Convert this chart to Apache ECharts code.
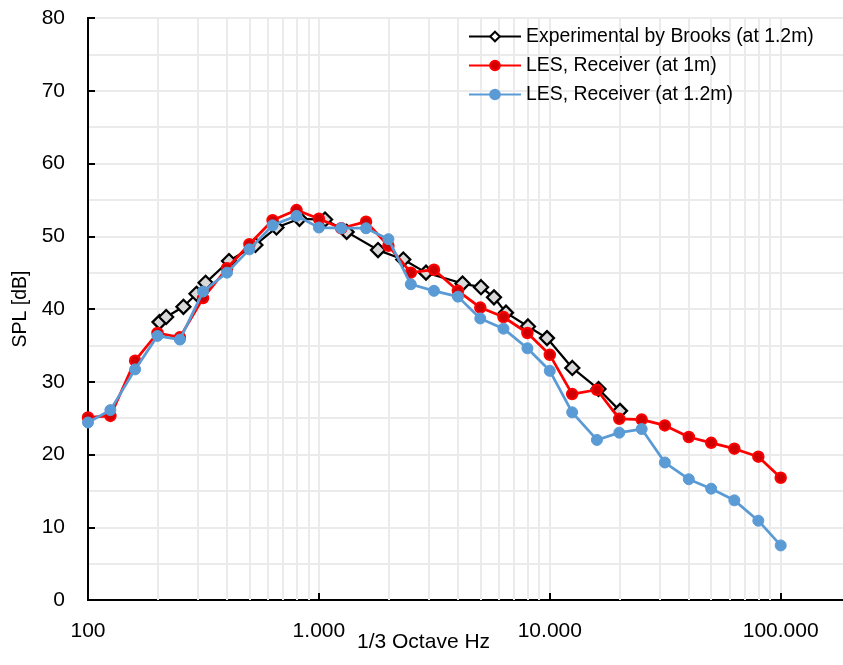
<!DOCTYPE html>
<html>
<head>
<meta charset="utf-8">
<title>SPL spectrum</title>
<script src="https://cdn.jsdelivr.net/npm/echarts@6/dist/echarts.min.js"></script>
<style>
  html, body { margin: 0; padding: 0; background: #fff; }
  #chart { width: 843px; height: 665px; }
</style>
</head>
<body>
<div id="chart"></div>
<script>
// 1/3-octave band centre frequencies used by both LES receivers
const bandHz = [100, 125, 160, 200, 250, 315, 400, 500, 630, 800, 1000, 1250, 1600, 2000, 2500,
  3150, 4000, 5000, 6300, 8000, 10000, 12500, 16000, 20000, 25000, 31500, 40000, 50000, 63000, 80000, 100000];

// LES receiver at 1 m
const lesAt1m = [25.1, 25.3, 32.9, 36.7, 36.1, 41.5, 45.6, 48.9, 52.2, 53.6, 52.4, 51.1, 52.0, 48.7, 45.0,
  45.4, 42.5, 40.2, 38.9, 36.7, 33.7, 28.3, 28.9, 24.9, 24.8, 24.0, 22.4, 21.6, 20.8, 19.7, 16.8];

// LES receiver at 1.2 m
const lesAt12m = [24.4, 26.1, 31.7, 36.3, 35.8, 42.4, 45.0, 48.2, 51.5, 52.8, 51.2, 51.1, 51.1, 49.6, 43.4,
  42.5, 41.7, 38.7, 37.3, 34.6, 31.5, 25.8, 22.0, 23.0, 23.5, 18.9, 16.6, 15.3, 13.7, 10.9, 7.5];

// Experimental data by Brooks (at 1.2 m)
const brooksHz = [204, 218, 259, 295, 323, 408, 531, 655, 824, 1063, 1319, 1803, 2320, 2910,
  4188, 5036, 5731, 6460, 8045, 9725, 12520, 16254, 20140];
const brooksSPL = [38.2, 38.9, 40.3, 42.1, 43.6, 46.6, 48.8, 51.2, 52.4, 52.3, 50.6, 48.1, 46.8, 45.0,
  43.5, 43.0, 41.6, 39.5, 37.6, 36.0, 31.9, 29.0, 26.0];

// Intermediate log gridlines (2..9 within each decade)
const minorHz = [];
[100, 1000, 10000].forEach(d => { for (let k = 2; k <= 9; k++) minorHz.push(d * k); });

const seriesNames = ['Experimental by Brooks (at 1.2m)', 'LES, Receiver (at 1m)', 'LES, Receiver (at 1.2m)'];

const zip = (xs, ys) => xs.map((x, i) => [x, ys[i]]);
const thousands = v => String(Math.round(v)).replace(/\B(?=(\d{3})+(?!\d))/g, '.');

const FONT = '"Liberation Sans", Arial, sans-serif';
const GRID_COLOR = '#EBEBEB';

const chart = echarts.init(document.getElementById('chart'), null, { renderer: 'canvas' });

chart.setOption({
  backgroundColor: '#ffffff',
  animation: false,
  textStyle: { fontFamily: FONT, color: '#000' },
  title: {
    text: '1/3 Octave Hz',
    left: 357,
    top: 632,
    padding: 0,
    textStyle: { fontFamily: FONT, fontSize: 21, fontWeight: 'normal', color: '#000' }
  },
  grid: {
    left: 88,
    top: 18,
    bottom: 65,
    right: -168.6,
    outerBoundsMode: 'none',
    containLabel: false,
    show: true,
    borderColor: '#000',
    borderWidth: 2,
    backgroundColor: 'transparent'
  },
  legend: {
    orient: 'vertical',
    left: 468,
    top: 26.5,
    itemWidth: 52,
    itemHeight: 12,
    itemGap: 9,
    padding: 0,
    textStyle: { fontFamily: FONT, fontSize: 19.4, color: '#000', lineHeight: 20 },
    data: [
      { name: seriesNames[0], itemStyle: { color: '#ffffff', borderColor: '#000', borderWidth: 2 } },
      { name: seriesNames[1] },
      { name: seriesNames[2] }
    ]
  },
  xAxis: {
    type: 'log',
    logBase: 10,
    min: 100,
    max: 1000000,
    splitNumber: 4,
    axisLine: { show: true, onZero: false, lineStyle: { color: '#000', width: 2 } },
    axisTick: { show: true, inside: true, length: 7, lineStyle: { color: '#000', width: 2 } },
    axisLabel: {
      fontFamily: FONT, fontSize: 21, color: '#000', margin: 21,
      formatter: thousands
    },
    splitLine: { show: true, lineStyle: { color: GRID_COLOR, width: 2 } }
  },
  yAxis: {
    type: 'value',
    min: 0,
    max: 80,
    interval: 10,
    name: 'SPL [dB]',
    nameLocation: 'middle',
    nameGap: 53,
    nameTextStyle: { fontFamily: FONT, fontSize: 19.5, color: '#000' },
    axisLine: { show: true, lineStyle: { color: '#000', width: 2 } },
    axisTick: { show: true, inside: true, length: 7, lineStyle: { color: '#000', width: 2 } },
    axisLabel: { fontFamily: FONT, fontSize: 21, color: '#000', margin: 23 },
    splitLine: { show: true, lineStyle: { color: GRID_COLOR, width: 2 } },
    minorTick: { show: false, splitNumber: 2 },
    minorSplitLine: { show: true, lineStyle: { color: GRID_COLOR, width: 2 } }
  },
  series: [
    {
      // carrier for the intermediate logarithmic gridlines
      type: 'line',
      data: [],
      z: 0,
      silent: true,
      markLine: {
        z: 1,
        silent: true,
        symbol: ['none', 'none'],
        label: { show: false },
        animation: false,
        lineStyle: { color: GRID_COLOR, width: 2, type: 'solid' },
        emphasis: { disabled: true },
        data: minorHz.map(v => ({ xAxis: v }))
      }
    },
    {
      name: seriesNames[0],
      type: 'line',
      data: zip(brooksHz, brooksSPL),
      symbol: 'diamond',
      symbolSize: 14,
      lineStyle: { color: '#000', width: 2.25 },
      itemStyle: { color: '#D9D9D9', borderColor: '#000', borderWidth: 2.25 },
      z: 2
    },
    {
      name: seriesNames[1],
      type: 'line',
      data: zip(bandHz, lesAt1m),
      symbol: 'circle',
      symbolSize: 10.5,
      lineStyle: { color: '#FF0000', width: 2.75 },
      itemStyle: { color: '#D00000', borderColor: '#FF0000', borderWidth: 2 },
      z: 3
    },
    {
      name: seriesNames[2],
      type: 'line',
      data: zip(bandHz, lesAt12m),
      symbol: 'circle',
      symbolSize: 11,
      lineStyle: { color: '#5B9BD5', width: 2.75 },
      itemStyle: { color: '#5B9BD5', borderColor: '#5B9BD5', borderWidth: 1 },
      z: 4
    }
  ]
});
</script>
</body>
</html>
